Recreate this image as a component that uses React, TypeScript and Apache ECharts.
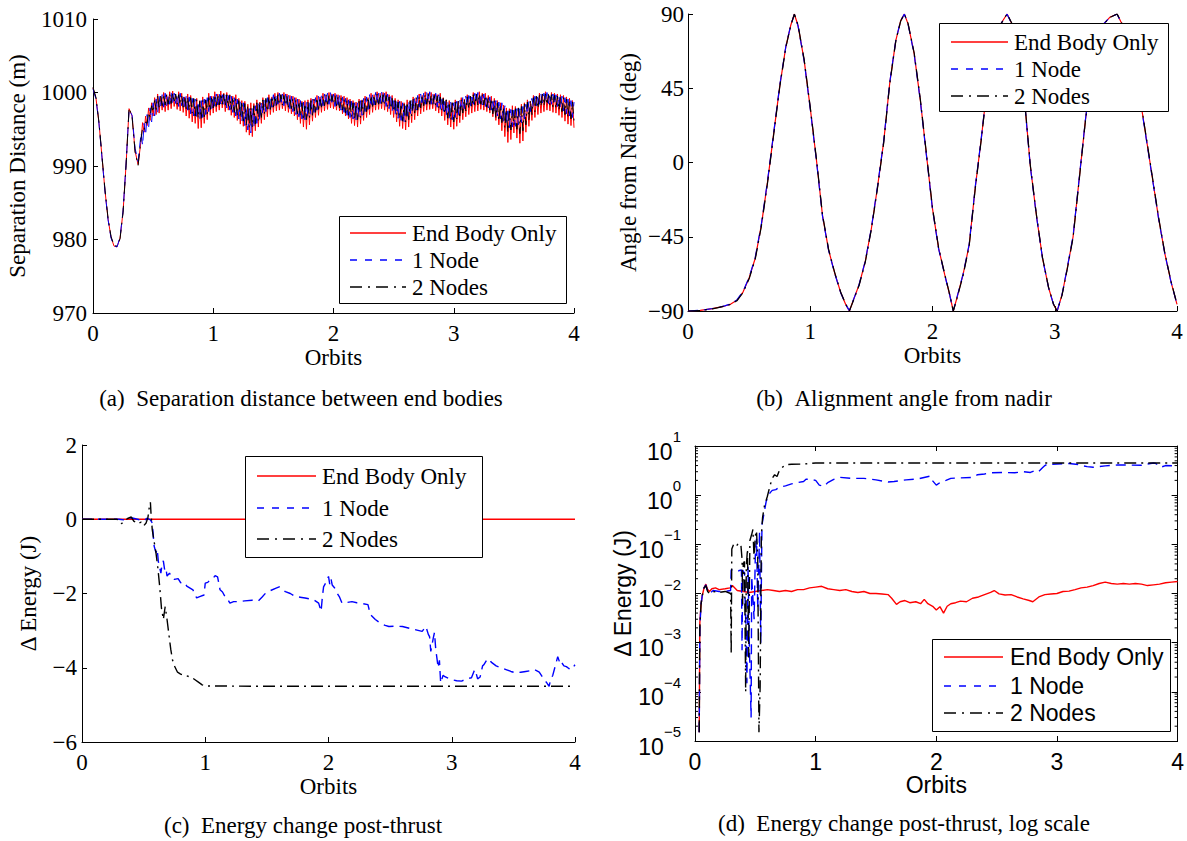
import { useEffect, useRef } from "react";
import * as echarts from "echarts";

const SERIF = "'Liberation Serif', 'Times New Roman', Times, serif";
const SANS = "'Liberation Sans', Arial, Helvetica, sans-serif";

// ---------- shared categories / ticks ----------
const SERIES_NAMES = ["End Body Only", "1 Node", "2 Nodes"];
const ORBIT_TICKS = [0, 1, 2, 3, 4];
const SEP_TICKS = [970, 980, 990, 1000, 1010];
const ANGLE_TICKS = [-90, -45, 0, 45, 90];
const ENERGY_TICKS = [-6, -4, -2, 0, 2];
const LOG_TICKS = [1e-5, 1e-4, 1e-3, 1e-2, 1e-1, 1, 10];
const LOG_MINOR_MULTIPLIERS = [2, 3, 4, 5, 6, 7, 8, 9];
const CAPTIONS = [
  "(a)\u00a0\u00a0Separation distance between end bodies",
  "(b)\u00a0\u00a0Alignment angle from nadir",
  "(c)\u00a0\u00a0Energy change post-thrust",
  "(d)\u00a0\u00a0Energy change post-thrust, log scale",
];

// ---------- (a) separation distance ----------
// smooth start (0 .. 0.375 orbits)
const sepEarlyOrbits = [0, 0.025, 0.05, 0.075, 0.1, 0.125, 0.15, 0.175, 0.2, 0.225, 0.25, 0.275, 0.3, 0.325, 0.35, 0.375];
const sepEarlyEndBody = [1000.6, 999.2, 995.8, 991.2, 986.6, 982.8, 980.3, 979.1, 979.0, 980.2, 983.8, 990.2, 997.8, 996.8, 992.0, 990.2];
const sepEarlyOneNode = [1000.5, 999.1, 995.7, 991.1, 986.5, 982.7, 980.2, 979.1, 979.0, 980.3, 983.9, 990.3, 997.7, 996.9, 992.4, 990.6];
const sepEarlyTwoNodes = [1000.7, 999.3, 995.9, 991.3, 986.7, 982.9, 980.4, 979.2, 979.1, 980.1, 983.7, 990.1, 997.9, 996.7, 991.9, 990.1];
// noisy part, sampled every SEP_STEP orbits from SEP_NOISE_START
const SEP_NOISE_START = 0.4;
const SEP_STEP = 0.0125;
const sepEndBody = [
  993.5, 995.9, 994.6, 996.8, 995.5, 997.9, 996.2, 998.6, 996.8, 999.3, 997.0, 999.8, 997.2, 999.5, 997.6, 1000.0, 997.4, 999.7, 997.6, 1000.1,
  997.8, 1000.2, 998.1, 999.6, 997.7, 1000.1, 997.5, 999.9, 997.3, 999.4, 996.8, 999.8, 996.5, 999.6, 996.0, 999.1, 995.8, 999.2, 995.1, 998.9,
  995.2, 999.4, 995.8, 999.0, 996.3, 999.9, 996.9, 999.5, 997.2, 1000.1, 997.4, 999.8, 997.6, 1000.2, 997.9, 999.9, 997.4, 1000.0, 997.6, 999.7,
  996.9, 999.5, 996.6, 999.7, 996.2, 999.2, 995.7, 998.9, 995.4, 998.8, 994.6, 998.4, 994.2, 998.6, 994.0, 998.5, 994.8, 999.0, 995.3, 998.7,
  995.8, 999.3, 996.3, 999.0, 996.7, 999.7, 997.0, 999.4, 997.3, 999.9, 997.5, 1000.0, 997.6, 999.7, 997.8, 1000.0, 997.5, 999.8, 997.3, 999.6,
  997.1, 999.5, 996.8, 999.3, 996.3, 999.1, 995.8, 998.8, 995.3, 998.9, 995.0, 999.0, 995.6, 999.2, 996.1, 999.1, 996.6, 999.6, 996.9, 999.4,
  997.3, 999.9, 997.5, 999.6, 997.7, 1000.0, 997.9, 999.8, 997.8, 999.9, 997.6, 999.7, 997.5, 999.6, 997.1, 999.5, 996.8, 999.3, 996.4, 999.1,
  995.8, 998.9, 995.5, 998.7, 995.3, 999.1, 995.7, 999.0, 996.2, 999.5, 996.6, 999.3, 997.0, 999.9, 997.3, 999.7, 997.6, 1000.1, 997.7, 999.9,
  997.8, 1000.0, 997.6, 1000.1, 997.4, 999.7, 997.0, 999.6, 996.6, 999.2, 996.0, 999.0, 995.4, 998.8, 995.1, 998.6, 994.9, 999.0, 995.3, 998.8,
  995.9, 999.4, 996.3, 999.2, 996.8, 999.8, 997.1, 999.6, 997.4, 1000.1, 997.6, 999.9, 997.7, 1000.0, 997.8, 999.8, 997.5, 999.7, 997.2, 999.9,
  996.8, 999.3, 996.2, 999.0, 995.6, 998.9, 995.3, 998.6, 995.0, 999.0, 995.4, 998.8, 995.9, 999.3, 996.3, 999.1, 996.7, 999.7, 997.0, 999.5,
  997.2, 1000.0, 997.4, 999.8, 997.5, 1000.1, 997.7, 999.9, 997.6, 999.9, 997.4, 999.6, 997.2, 999.5, 996.7, 999.2, 996.2, 998.9, 995.6, 998.6,
  994.8, 998.3, 994.0, 997.9, 993.2, 997.8, 993.6, 998.2, 994.5, 998.1, 993.8, 997.9, 993.1, 998.4, 993.4, 998.6, 994.6, 999.0, 995.4, 998.8,
  996.2, 999.6, 996.6, 999.4, 997.0, 999.9, 997.2, 999.8, 997.4, 1000.1, 997.6, 999.8, 997.5, 1000.0, 997.3, 999.9, 997.2, 999.8, 996.9, 999.7,
  996.6, 999.6, 996.1, 999.4, 995.7, 999.2, 995.5, 998.9, 995.2,
];
const sepOneNode = [
  994.5, 992.8, 995.8, 994.2, 997.0, 995.2, 997.9, 996.0, 998.6, 996.8, 999.1, 997.3, 999.5, 997.9, 999.7, 998.0, 999.9, 998.2, 999.6, 998.4,
  1000.0, 998.3, 999.9, 998.5, 999.8, 998.1, 999.9, 998.2, 999.7, 997.7, 999.5, 997.6, 999.4, 997.1, 999.2, 996.8, 999.1, 996.5, 998.8, 996.3,
  998.9, 996.6, 999.1, 997.0, 999.3, 997.4, 999.5, 997.8, 999.7, 998.0, 999.8, 998.3, 999.9, 998.2, 999.7, 998.4, 999.8, 997.9, 999.6, 997.6,
  999.5, 997.3, 999.3, 996.8, 999.1, 996.4, 998.8, 996.0, 998.6, 995.5, 998.1, 994.9, 997.8, 994.5, 997.9, 995.2, 998.2, 995.8, 998.5, 996.2,
  998.8, 997.0, 999.1, 997.4, 999.3, 997.8, 999.5, 998.0, 999.7, 998.2, 999.8, 998.4, 999.9, 998.3, 999.8, 998.2, 999.8, 998.0, 999.6, 997.8,
  999.5, 997.4, 999.3, 997.0, 999.1, 996.7, 998.9, 996.4, 998.7, 996.3, 998.8, 996.6, 998.9, 997.0, 999.1, 997.3, 999.3, 997.6, 999.5, 997.8,
  999.7, 998.2, 999.8, 998.3, 999.9, 998.4, 1000.0, 998.3, 999.8, 998.1, 999.7, 997.9, 999.6, 997.6, 999.4, 997.3, 999.2, 996.9, 999.0, 996.6,
  998.8, 996.4, 998.6, 996.3, 998.7, 996.7, 998.9, 996.9, 999.2, 997.4, 999.4, 997.7, 999.7, 998.0, 999.8, 998.3, 1000.0, 998.4, 999.9, 998.5,
  1000.1, 998.3, 999.9, 998.1, 999.8, 997.8, 999.6, 997.4, 999.3, 996.9, 999.0, 996.5, 998.8, 996.2, 998.6, 996.0, 998.6, 996.4, 998.8, 996.8,
  999.1, 997.3, 999.4, 997.6, 999.6, 998.0, 999.8, 998.2, 999.9, 998.4, 1000.0, 998.5, 1000.1, 998.4, 999.9, 998.3, 999.9, 998.0, 999.7, 997.7,
  999.5, 997.2, 999.2, 996.8, 998.9, 996.5, 998.7, 996.3, 998.6, 996.6, 998.8, 996.9, 999.0, 997.4, 999.3, 997.8, 999.5, 998.1, 999.6, 998.2,
  999.8, 998.4, 999.9, 998.5, 1000.0, 998.5, 999.9, 998.3, 999.8, 998.1, 999.6, 997.9, 999.4, 997.6, 999.2, 997.2, 998.9, 996.8, 998.7, 996.4,
  998.6, 996.1, 998.2, 995.6, 997.9, 995.2, 997.7, 995.3, 997.6, 995.4, 997.8, 995.6, 997.8, 995.9, 998.1, 996.4, 998.4, 997.0, 998.8, 997.4,
  999.2, 997.9, 999.5, 998.2, 999.7, 998.4, 999.8, 998.6, 999.9, 998.6, 1000.0, 998.5, 999.9, 998.4, 999.8, 998.3, 999.7, 998.1, 999.6, 997.8,
  999.5, 997.5, 999.3, 997.1, 999.1, 996.8, 998.9, 996.6, 998.7,
];
const sepTwoNodes = [
  993.8, 995.2, 994.9, 996.0, 995.8, 997.3, 996.6, 998.2, 997.3, 998.9, 997.7, 999.5, 998.0, 999.6, 998.2, 999.8, 998.3, 999.7, 998.4, 999.9,
  998.5, 999.9, 998.6, 999.8, 998.4, 999.7, 998.3, 999.6, 998.0, 999.5, 997.8, 999.4, 997.5, 999.3, 997.2, 999.2, 996.8, 999.0, 996.5, 998.8,
  996.4, 998.9, 996.7, 999.0, 997.1, 999.3, 997.5, 999.5, 997.9, 999.7, 998.1, 999.8, 998.3, 999.9, 998.4, 999.8, 998.2, 999.7, 998.0, 999.6,
  997.7, 999.4, 997.3, 999.2, 996.9, 998.9, 996.5, 998.8, 996.1, 998.5, 995.6, 998.3, 995.2, 998.0, 995.3, 998.2, 995.7, 998.6, 996.1, 998.8,
  996.6, 999.0, 997.0, 999.2, 997.4, 999.4, 997.7, 999.5, 998.0, 999.6, 998.2, 999.7, 998.3, 999.7, 998.3, 999.6, 998.2, 999.5, 998.0, 999.4,
  997.8, 999.2, 997.5, 999.0, 997.1, 998.8, 996.7, 998.6, 996.2, 998.5, 996.3, 998.7, 996.5, 998.9, 996.9, 999.1, 997.3, 999.3, 997.7, 999.4,
  998.0, 999.6, 998.2, 999.7, 998.4, 999.7, 998.5, 999.6, 998.4, 999.6, 998.2, 999.4, 997.9, 999.3, 997.6, 999.1, 997.2, 999.0, 996.9, 998.8,
  996.7, 998.6, 996.4, 998.5, 996.3, 998.8, 996.6, 998.9, 997.0, 999.2, 997.4, 999.4, 997.8, 999.6, 998.1, 999.7, 998.3, 999.8, 998.4, 999.8,
  998.5, 999.7, 998.3, 999.6, 998.1, 999.4, 997.8, 999.2, 997.4, 998.9, 996.9, 998.7, 996.4, 998.5, 996.1, 998.4, 996.0, 998.7, 996.3, 998.9,
  996.8, 999.1, 997.2, 999.3, 997.6, 999.5, 997.9, 999.7, 998.2, 999.8, 998.4, 999.8, 998.4, 999.7, 998.3, 999.6, 998.2, 999.5, 997.9, 999.4,
  997.6, 999.2, 997.1, 999.0, 996.5, 998.7, 996.2, 998.6, 996.0, 998.7, 996.4, 998.8, 996.8, 999.0, 997.2, 999.2, 997.5, 999.4, 997.8, 999.5,
  998.0, 999.7, 998.2, 999.8, 998.3, 999.8, 998.4, 999.7, 998.3, 999.6, 998.0, 999.4, 997.6, 999.2, 997.1, 998.9, 996.6, 998.6, 996.1, 998.3,
  995.9, 998.0, 995.2, 997.7, 994.6, 997.5, 994.9, 997.6, 995.5, 997.8, 995.0, 997.9, 994.4, 998.1, 994.8, 998.4, 995.6, 998.7, 996.3, 999.0,
  997.0, 999.3, 997.4, 999.5, 997.8, 999.6, 998.1, 999.8, 998.2, 999.8, 998.3, 999.7, 998.2, 999.7, 998.0, 999.6, 997.8, 999.5, 997.6, 999.4,
  997.4, 999.3, 997.0, 999.1, 996.6, 998.9, 996.4, 998.7, 996.2,
];

// ---------- (b) angle from nadir ----------
const angleOrbits = [
  0, 0.1, 0.2, 0.3, 0.35, 0.4, 0.45, 0.5, 0.55, 0.6, 0.65, 0.7, 0.75, 0.8, 0.84, 0.87, 0.9, 0.95, 1.0, 1.05,
  1.1, 1.15, 1.2, 1.25, 1.29, 1.32, 1.36, 1.4, 1.45, 1.5, 1.55, 1.6, 1.65, 1.7, 1.74, 1.77, 1.8, 1.85, 1.9, 1.95,
  2.0, 2.05, 2.1, 2.14, 2.17, 2.2, 2.25, 2.3, 2.35, 2.4, 2.45, 2.5, 2.55, 2.61, 2.65, 2.7, 2.75, 2.8, 2.85, 2.9,
  2.95, 2.99, 3.02, 3.06, 3.1, 3.15, 3.2, 3.25, 3.3, 3.35, 3.4, 3.45, 3.51, 3.55, 3.6, 3.65, 3.7, 3.75, 3.8, 3.85,
  3.9, 3.95, 4.0,
];
const angleEndBody = [
  -90, -89.6, -88.6, -87, -85.8, -83.5, -78.5, -70, -58, -38, -12, 17, 46, 70, 83, 90, 83, 62, 33, 2,
  -32, -53, -67, -79, -86, -90, -82, -74, -60, -40, -15, 12, 48, 74, 86, 90, 84, 66, 38, 5,
  -28, -52, -68, -80, -90, -82, -68, -50, -15, 15, 48, 70, 83, 90, 84, 71, 40, -2, -32, -58,
  -76, -86, -90, -80, -65, -45, -10, 25, 55, 74, 84, 88, 90, 84, 74, 58, 38, 14, -10, -34,
  -55, -72, -86,
];
const angleOneNode = [
  -90, -89.6, -88.5, -86.9, -85.7, -83.3, -78.2, -69.6, -57.5, -37.4, -11.4, 17.5, 46.4, 70.2, 83.1, 89.8, 82.8, 61.6, 32.5, 1.5,
  -32.4, -53.3, -67.2, -79.1, -86, -89.8, -81.9, -73.8, -59.7, -39.6, -14.5, 12.5, 48.4, 74.2, 86, 89.9, 83.8, 65.6, 37.5, 4.5,
  -28.4, -52.3, -68.2, -80, -89.9, -81.8, -67.7, -49.6, -14.6, 15.4, 48.3, 70.2, 83, 89.9, 83.9, 70.7, 39.6, -2.4, -32.3, -58.2,
  -76.1, -86, -89.9, -79.8, -64.7, -44.6, -9.6, 25.3, 55.2, 74.1, 84, 88, 89.9, 83.9, 73.8, 57.7, 37.6, 13.6, -10.4, -34.3,
  -55.2, -72.1, -86,
];
const angleTwoNodes = [
  -90, -89.7, -88.7, -87.1, -86, -83.8, -78.9, -70.5, -58.6, -38.7, -12.7, 16.4, 45.5, 69.7, 82.8, 89.9, 83.4, 62.5, 33.6, 2.6,
  -31.5, -52.6, -66.7, -78.8, -85.8, -90, -82.3, -74.4, -60.4, -40.5, -15.6, 11.4, 47.5, 73.7, 85.8, 90, 84.3, 66.5, 38.6, 5.6,
  -27.5, -51.6, -67.7, -79.8, -90, -82.4, -68.5, -50.6, -15.7, 14.5, 47.6, 69.7, 82.8, 90, 84.3, 71.5, 40.6, -1.5, -31.6, -57.7,
  -75.8, -85.9, -90, -80.4, -65.5, -45.5, -10.6, 24.5, 54.6, 73.7, 83.8, 87.9, 90, 84.3, 74.4, 58.5, 38.5, 14.6, -9.4, -33.5,
  -54.7, -71.7, -85.8,
];

// ---------- (c) energy change ----------
const energyEndOrbits = [0, 1, 2, 3, 4];
const energyEndBody = [0, 0, 0, 0, 0];
const energyOneOrbits = [
  0, 0.1, 0.2, 0.3, 0.35, 0.4, 0.45, 0.5, 0.53, 0.555,
  0.57, 0.585, 0.6, 0.61, 0.62, 0.63, 0.64, 0.65, 0.66, 0.67,
  0.68, 0.69, 0.71, 0.73, 0.75, 0.78, 0.8, 0.83, 0.85, 0.88,
  0.9, 0.93, 0.96, 0.99, 1.0, 1.02, 1.04, 1.06, 1.08, 1.1,
  1.12, 1.14, 1.16, 1.18, 1.2, 1.23, 1.27, 1.32, 1.38, 1.43,
  1.46, 1.49, 1.53, 1.57, 1.6, 1.63, 1.65, 1.69, 1.73, 1.77,
  1.81, 1.85, 1.88, 1.92, 1.94, 1.95, 1.96, 1.98, 2.0, 2.01,
  2.02, 2.03, 2.05, 2.07, 2.09, 2.11, 2.15, 2.19, 2.23, 2.27,
  2.32, 2.34, 2.38, 2.42, 2.46, 2.49, 2.55, 2.6, 2.66, 2.71,
  2.76, 2.79, 2.81, 2.82, 2.83, 2.85, 2.86, 2.87, 2.89, 2.9,
  2.91, 2.93, 2.94, 2.97, 3.0, 3.04, 3.08, 3.12, 3.16, 3.18,
  3.19, 3.21, 3.23, 3.25, 3.26, 3.29, 3.31, 3.32, 3.36, 3.4,
  3.44, 3.48, 3.52, 3.56, 3.6, 3.64, 3.67, 3.71, 3.73, 3.75,
  3.77, 3.79, 3.8, 3.82, 3.84, 3.86, 3.88, 3.89, 3.91, 3.93,
  3.95, 3.97, 4.0,
];
const energyOneNode = [
  0, 0, 0, 0, -0.02, 0.04, 0, -0.04, 0.03, -0.02,
  -0.1, -0.72, -0.9, -0.8, -1.15, -1.3, -1.45, -1.2, -1.12, -1.35,
  -1.3, -1.53, -1.45, -1.58, -1.62, -1.6, -1.71, -1.7, -1.8, -1.86,
  -1.9, -2.12, -2.08, -2.04, -1.72, -1.7, -1.63, -1.6, -1.52, -1.55,
  -1.9, -1.96, -2.08, -2.15, -2.26, -2.22, -2.22, -2.2, -2.18, -2.2,
  -2.1, -1.99, -1.92, -1.86, -1.82, -1.9, -1.95, -2.0, -2.08, -2.1,
  -2.12, -2.15, -2.17, -2.26, -2.48, -2.1, -1.82, -1.7, -1.54, -1.75,
  -1.6, -1.77, -1.85, -1.99, -2.1, -2.26, -2.24, -2.22, -2.25, -2.27,
  -2.3, -2.57, -2.7, -2.8, -2.86, -2.89, -2.88, -2.89, -2.94, -2.98,
  -3.02, -2.89, -3.1, -3.16, -3.56, -3.2, -3.05, -3.5, -4.0, -3.8,
  -4.41, -4.2, -4.23, -4.28, -4.32, -4.35, -4.36, -4.3, -4.27, -4.1,
  -4.05, -4.3, -4.25, -3.95, -3.92, -3.76, -3.8, -3.85, -3.95, -4.0,
  -4.05, -4.1, -4.14, -4.12, -4.1, -4.08, -4.05, -4.12, -4.22, -4.32,
  -4.4, -4.5, -4.35, -4.2, -3.95, -3.7, -3.9, -3.85, -3.95, -3.97,
  -4.02, -4.05, -3.92,
];
const energyTwoOrbits = [
  0, 0.1, 0.2, 0.28, 0.3, 0.32, 0.34, 0.37, 0.4, 0.42, 0.45, 0.48, 0.5, 0.52, 0.535, 0.545, 0.555, 0.56, 0.57, 0.585,
  0.6, 0.615, 0.63, 0.645, 0.66, 0.675, 0.69, 0.705, 0.72, 0.735, 0.75, 0.775, 0.8, 0.85, 0.89, 0.92, 0.95, 0.975, 1.0, 1.5,
  2.0, 2.5, 3.0, 3.5, 4.0,
];
const energyTwoNodes = [
  0, 0, 0, 0, -0.02, -0.12, -0.06, 0.02, 0.06, -0.05, -0.12, -0.08, -0.18, -0.1, 0.05, 0.3, 0.46, 0.15, -0.28, -0.6,
  -0.9, -1.3, -1.8, -2.4, -2.7, -2.35, -2.7, -3.1, -3.5, -3.8, -3.95, -4.12, -4.17, -4.22, -4.26, -4.33, -4.4, -4.46, -4.49, -4.5,
  -4.5, -4.5, -4.5, -4.5, -4.5,
];

// ---------- (d) |energy change|, log scale ----------
const logEndOrbits = [
  0.035, 0.04, 0.05, 0.06, 0.075, 0.09, 0.105, 0.12, 0.14, 0.17, 0.2, 0.25, 0.29, 0.31, 0.35, 0.4, 0.45, 0.5, 0.55, 0.6,
  0.65, 0.7, 0.75, 0.8, 0.85, 0.9, 0.95, 1.0, 1.05, 1.1, 1.15, 1.2, 1.25, 1.3, 1.35, 1.4, 1.45, 1.5, 1.55, 1.6,
  1.63, 1.67, 1.7, 1.74, 1.78, 1.83, 1.87, 1.9, 1.93, 1.97, 2.0, 2.03, 2.06, 2.09, 2.12, 2.16, 2.2, 2.25, 2.3, 2.35,
  2.4, 2.45, 2.48, 2.52, 2.57, 2.62, 2.67, 2.72, 2.77, 2.8, 2.85, 2.9, 2.95, 3.0, 3.05, 3.1, 3.15, 3.2, 3.25, 3.3,
  3.35, 3.4, 3.45, 3.5, 3.55, 3.6, 3.65, 3.7, 3.75, 3.8, 3.85, 3.9, 3.95, 4.0,
];
const logEndBody = [
  1.5e-5, 2.5e-3, 6e-3, 9e-3, 1.3e-2, 1.55e-2, 1.2e-2, 1.1e-2, 1.25e-2, 1.3e-2, 1.2e-2, 1.25e-2, 1.3e-2, 1.45e-2, 1.15e-2, 1.1e-2, 1.05e-2, 1.1e-2, 1.15e-2, 1.2e-2,
  1.15e-2, 1.1e-2, 1.15e-2, 1.1e-2, 1.2e-2, 1.2e-2, 1.3e-2, 1.35e-2, 1.4e-2, 1.25e-2, 1.2e-2, 1.15e-2, 1.2e-2, 1.1e-2, 1.05e-2, 1.1e-2, 1.0e-2, 1.0e-2, 9.8e-3, 9.5e-3,
  8e-3, 6e-3, 6.8e-3, 7.2e-3, 6.5e-3, 6.8e-3, 6.2e-3, 7.6e-3, 6.2e-3, 5.5e-3, 4.6e-3, 5.4e-3, 4.0e-3, 5.5e-3, 6.2e-3, 6.5e-3, 7.0e-3, 6.8e-3, 8e-3, 8.5e-3,
  9.5e-3, 1.05e-2, 1.15e-2, 9.8e-3, 9.3e-3, 9.5e-3, 8.5e-3, 7.8e-3, 7.2e-3, 6.8e-3, 8.5e-3, 9.5e-3, 9.8e-3, 1.0e-2, 1.1e-2, 1.12e-2, 1.2e-2, 1.3e-2, 1.35e-2, 1.45e-2,
  1.6e-2, 1.7e-2, 1.6e-2, 1.55e-2, 1.6e-2, 1.55e-2, 1.6e-2, 1.55e-2, 1.45e-2, 1.5e-2, 1.55e-2, 1.65e-2, 1.7e-2, 1.75e-2,
];
const logOneOrbits = [
  0.035, 0.04, 0.05, 0.06, 0.075, 0.09, 0.105, 0.12, 0.15, 0.2, 0.25, 0.295, 0.3, 0.33, 0.36, 0.385, 0.39, 0.395, 0.41, 0.42,
  0.43, 0.44, 0.45, 0.465, 0.47, 0.49, 0.5, 0.51, 0.52, 0.535, 0.545, 0.555, 0.57, 0.59, 0.62, 0.64, 0.67, 0.7, 0.75, 0.8,
  0.85, 0.9, 0.92, 0.95, 1.0, 1.03, 1.07, 1.1, 1.15, 1.2, 1.3, 1.4, 1.5, 1.6, 1.65, 1.75, 1.85, 1.95, 1.97, 2.0,
  2.03, 2.08, 2.12, 2.2, 2.3, 2.34, 2.4, 2.45, 2.55, 2.65, 2.72, 2.78, 2.83, 2.85, 2.88, 2.9, 2.92, 2.95, 3.0, 3.1,
  3.18, 3.2, 3.25, 3.3, 3.4, 3.5, 3.6, 3.7, 3.75, 3.8, 3.82, 3.86, 3.9, 3.96, 4.0,
];
const logOneNode = [
  1.5e-5, 2e-3, 6e-3, 9e-3, 1.3e-2, 1.5e-2, 1.1e-2, 1.0e-2, 1.15e-2, 1.1e-2, 1.1e-2, 1.15e-2, 3e-2, 3.1e-2, 2.9e-2, 3e-2, 7e-4, 3e-2, 2.6e-2, 3e-3,
  1.5e-4, 3.5e-2, 1e-3, 3e-5, 2.2e-2, 3e-3, 6e-2, 1.3e-1, 5e-3, 1.8e-1, 1e-3, 2.5e-1, 4e-1, 7.5e-1, 1.1, 1.25, 1.3, 1.45, 1.55, 1.7,
  1.8, 1.9, 2.1, 2.1, 2.0, 1.6, 1.5, 1.8, 2.1, 2.3, 2.2, 2.2, 2.05, 1.85, 1.9, 2.05, 2.15, 2.45, 1.95, 1.6,
  1.8, 2.0, 2.2, 2.25, 2.3, 2.6, 2.7, 2.85, 2.9, 2.85, 3.0, 2.9, 3.25, 3.05, 3.6, 4.0, 4.3, 4.2, 4.3, 4.4,
  4.2, 4.05, 3.8, 3.7, 3.95, 4.1, 4.1, 4.05, 4.3, 4.5, 4.4, 3.7, 4.0, 3.95, 3.85,
];
const logTwoOrbits = [
  0.035, 0.04, 0.05, 0.06, 0.075, 0.09, 0.105, 0.12, 0.15, 0.2, 0.25, 0.295, 0.3, 0.305, 0.32, 0.34, 0.36, 0.38, 0.39, 0.395,
  0.4, 0.41, 0.42, 0.425, 0.435, 0.445, 0.455, 0.47, 0.48, 0.49, 0.5, 0.51, 0.52, 0.53, 0.54, 0.55, 0.56, 0.575, 0.6, 0.62,
  0.64, 0.66, 0.68, 0.7, 0.73, 0.76, 0.8, 0.9, 0.95, 1.0, 2.0, 3.0, 4.0,
];
const logTwoNodes = [
  1.5e-5, 2e-3, 6e-3, 9e-3, 1.3e-2, 1.45e-2, 1.1e-2, 1.0e-2, 1.1e-2, 1.05e-2, 1.1e-2, 1.0e-2, 6e-4, 8e-2, 1e-1, 9e-2, 1.05e-1, 1e-1, 5e-2, 6e-3,
  4e-2, 4.5e-2, 1e-4, 3.5e-2, 8e-2, 5e-4, 1.2e-1, 1.6e-1, 2e-1, 5e-2, 1.5e-1, 1.9e-1, 5e-2, 1.5e-5, 1.3e-4, 1.5e-1, 3.5e-1, 6e-1, 9.5e-1, 1.5,
  2.2, 2.6, 2.4, 3.2, 3.8, 4.2, 4.25, 4.3, 4.4, 4.5, 4.5, 4.5, 4.5,
];

// ---------- helpers ----------
const pairs = (xs: number[], ys: number[]) => xs.map((x, i) => [x, ys[i]]);
const stepPairs = (ys: number[], start: number, step: number) =>
  ys.map((y, i) => [Math.round((start + i * step) * 10000) / 10000, y]);
const fmtNum = (v: number) => (v < 0 ? "\u2212" + Math.abs(v) : String(v));
const supDigits = (v: number) => {
  const e = Math.round(Math.log10(v));
  return e < 0 ? "\u2212" + Math.abs(e) : String(e);
};

const LINE_COLORS = ["#ff0000", "#0000ff", "#000000"];
const LINE_DASHES: any[] = ["solid", [10, 6], [12, 5, 2, 5]];
const LEGEND_DASHES: any[] = [null, [7, 8], [12, 6, 2, 6]];

// legend boxes (layout only)
const LEGEND_BOXES = [
  { x: 339, y: 216, w: 227, h: 87, rows: [233, 260, 287], line: [350, 406], textX: 412, font: SERIF },
  { x: 939, y: 23, w: 229, h: 88, rows: [42, 69, 96], line: [951, 1008], textX: 1014, font: SERIF },
  { x: 245, y: 456, w: 237, h: 101, rows: [476, 508, 539], line: [257, 316], textX: 322, font: SERIF },
  { x: 932, y: 639, w: 238, h: 92, rows: [657, 686, 713], line: [944, 1003], textX: 1010, font: SANS },
];

function buildOption() {
  const grids = [
    { left: 93, top: 19, width: 481, height: 294 },
    { left: 688, top: 14, width: 489, height: 297 },
    { left: 82, top: 445, width: 493, height: 297 },
    { left: 695, top: 446, width: 484, height: 295 },
  ];

  const xAxisBase = (gridIndex: number, font: string, margin: number) => ({
    type: "value",
    gridIndex,
    min: ORBIT_TICKS[0],
    max: ORBIT_TICKS[ORBIT_TICKS.length - 1],
    interval: ORBIT_TICKS[1] - ORBIT_TICKS[0],
    name: "Orbits",
    nameLocation: "middle",
    nameGap: 32,
    nameTextStyle: { fontFamily: font, fontSize: 23, color: "#000" },
    axisLine: { show: true, onZero: false, lineStyle: { color: "#000", width: 1 } },
    axisTick: { show: true, inside: true, length: 5, lineStyle: { color: "#000" } },
    axisLabel: { fontFamily: font, fontSize: 23, color: "#000", margin, formatter: fmtNum },
    splitLine: { show: false },
  });

  const yAxisBase = (gridIndex: number, ticks: number[], name: string, nameGap: number, margin: number) => ({
    type: "value",
    gridIndex,
    min: ticks[0],
    max: ticks[ticks.length - 1],
    interval: ticks[1] - ticks[0],
    name,
    nameLocation: "middle",
    nameRotate: 90,
    nameGap,
    nameTextStyle: { fontFamily: SERIF, fontSize: 23, color: "#000" },
    axisLine: { show: true, onZero: false, lineStyle: { color: "#000", width: 1 } },
    axisTick: { show: true, inside: true, length: 5, lineStyle: { color: "#000" } },
    axisLabel: { fontFamily: SERIF, fontSize: 23, color: "#000", margin, formatter: fmtNum },
    splitLine: { show: false },
  });

  const xAxis: any[] = [
    xAxisBase(0, SERIF, 9),
    xAxisBase(1, SERIF, 9),
    xAxisBase(2, SERIF, 9),
    xAxisBase(3, SANS, 9),
    {
      type: "value",
      gridIndex: 3,
      position: "top",
      min: ORBIT_TICKS[0],
      max: ORBIT_TICKS[ORBIT_TICKS.length - 1],
      interval: 1,
      axisLine: { show: true, onZero: false, lineStyle: { color: "#000", width: 1 } },
      axisTick: { show: true, inside: true, length: 5, lineStyle: { color: "#000" } },
      axisLabel: { show: false },
      splitLine: { show: false },
    },
  ];

  const logLabel = {
    fontFamily: SANS,
    color: "#000",
    margin: 14,
    formatter: (v: number) => `{b|10}{s|${supDigits(v)}}`,
    rich: {
      b: { fontFamily: SANS, fontSize: 23, color: "#000", lineHeight: 34, verticalAlign: "bottom" },
      s: { fontFamily: SANS, fontSize: 15, color: "#000", verticalAlign: "top" },
    },
  };

  const yAxis: any[] = [
    yAxisBase(0, SEP_TICKS, "Separation Distance (m)", 64, 6),
    yAxisBase(1, ANGLE_TICKS, "Angle from Nadir (deg)", 48, 4),
    yAxisBase(2, ENERGY_TICKS, "\u0394 Energy (J)", 42, 5),
    {
      type: "log",
      logBase: 10,
      gridIndex: 3,
      min: LOG_TICKS[0],
      max: LOG_TICKS[LOG_TICKS.length - 1],
      splitNumber: LOG_TICKS.length - 1,
      name: "\u0394 Energy (J)",
      nameLocation: "middle",
      nameRotate: 90,
      nameGap: 61,
      nameTextStyle: { fontFamily: SANS, fontSize: 23, color: "#000" },
      axisLine: { show: true, onZero: false, lineStyle: { color: "#000", width: 1 } },
      axisTick: { show: true, inside: true, length: 6, lineStyle: { color: "#000" } },
      axisLabel: logLabel,
      splitLine: { show: false },
    },
    {
      type: "log",
      logBase: 10,
      gridIndex: 3,
      position: "right",
      min: LOG_TICKS[0],
      max: LOG_TICKS[LOG_TICKS.length - 1],
      splitNumber: LOG_TICKS.length - 1,
      axisLine: { show: true, onZero: false, lineStyle: { color: "#000", width: 1 } },
      axisTick: { show: true, inside: true, length: 6, lineStyle: { color: "#000" } },
      axisLabel: { show: false },
      splitLine: { show: false },
    },
  ];

  const panelData: number[][][][] = [
    [
      [...pairs(sepEarlyOrbits, sepEarlyEndBody), ...stepPairs(sepEndBody, SEP_NOISE_START, SEP_STEP)],
      [...pairs(sepEarlyOrbits, sepEarlyOneNode), ...stepPairs(sepOneNode, SEP_NOISE_START, SEP_STEP)],
      [...pairs(sepEarlyOrbits, sepEarlyTwoNodes), ...stepPairs(sepTwoNodes, SEP_NOISE_START, SEP_STEP)],
    ],
    [pairs(angleOrbits, angleEndBody), pairs(angleOrbits, angleOneNode), pairs(angleOrbits, angleTwoNodes)],
    [pairs(energyEndOrbits, energyEndBody), pairs(energyOneOrbits, energyOneNode), pairs(energyTwoOrbits, energyTwoNodes)],
    [pairs(logEndOrbits, logEndBody), pairs(logOneOrbits, logOneNode), pairs(logTwoOrbits, logTwoNodes)],
  ];
  const widths = [1, 1.2, 1.4, 1.4];

  const series: any[] = [];
  panelData.forEach((panel, p) => {
    panel.forEach((data, s) => {
      series.push({
        type: "line",
        name: SERIES_NAMES[s],
        xAxisIndex: p,
        yAxisIndex: p,
        data,
        symbol: "none",
        showSymbol: false,
        clip: true,
        silent: true,
        z: 2 + s,
        lineStyle: { color: LINE_COLORS[s], type: LINE_DASHES[s], width: widths[p] },
        itemStyle: { color: LINE_COLORS[s] },
      });
    });
  });

  // minor ticks of the log axis in (d), placed through the axis scale
  const minorValues: number[][] = [];
  LOG_TICKS.slice(0, -1).forEach((decade) => {
    LOG_MINOR_MULTIPLIERS.forEach((m) => minorValues.push([ORBIT_TICKS[0], decade * m]));
  });
  series.push({
    type: "custom",
    xAxisIndex: 3,
    yAxisIndex: 3,
    silent: true,
    clip: false,
    z: 10,
    data: minorValues,
    renderItem: (_params: any, api: any) => {
      const v = api.value(1);
      const pl = api.coord([ORBIT_TICKS[0], v]);
      const pr = api.coord([ORBIT_TICKS[ORBIT_TICKS.length - 1], v]);
      return {
        type: "group",
        children: [
          { type: "line", shape: { x1: pl[0], y1: pl[1], x2: pl[0] + 3, y2: pl[1] }, style: { stroke: "#000", lineWidth: 1 } },
          { type: "line", shape: { x1: pr[0] - 3, y1: pr[1], x2: pr[0], y2: pr[1] }, style: { stroke: "#000", lineWidth: 1 } },
        ],
      };
    },
  });

  // legends drawn as graphic groups
  const legendGraphics: any[] = LEGEND_BOXES.map((b) => ({
    type: "group",
    z: 100,
    silent: true,
    children: [
      {
        type: "rect",
        shape: { x: b.x + 0.5, y: b.y + 0.5, width: b.w, height: b.h },
        style: { fill: "#fff", stroke: "#000", lineWidth: 1 },
        z: 100,
      },
      ...SERIES_NAMES.flatMap((name, s) => [
        {
          type: "line",
          shape: { x1: b.line[0], y1: b.rows[s], x2: b.line[1], y2: b.rows[s] },
          style: { stroke: LINE_COLORS[s], lineWidth: 1.5, lineDash: LEGEND_DASHES[s] },
          z: 101,
        },
        {
          type: "text",
          x: b.textX,
          y: b.rows[s],
          style: { text: name, fontFamily: b.font, fontSize: 23, fill: "#000", align: "left", verticalAlign: "middle" },
          z: 101,
        },
      ]),
    ],
  }));

  const captionPos = [
    [301, 398],
    [904, 398],
    [303, 825],
    [904, 823],
  ];
  const captionGraphics = CAPTIONS.map((text, i) => ({
    type: "text",
    x: captionPos[i][0],
    y: captionPos[i][1],
    silent: true,
    style: {
      text,
      fontFamily: SERIF,
      fontSize: 23,
      fill: "#000",
      align: "center",
      verticalAlign: "middle",
    },
  }));

  return {
    animation: false,
    backgroundColor: "#fff",
    grid: grids.map((g) => ({ ...g, containLabel: false })),
    xAxis,
    yAxis,
    series,
    graphic: [...legendGraphics, ...captionGraphics],
  };
}

export default function App() {
  const ref = useRef<HTMLDivElement>(null);
  useEffect(() => {
    document.body.style.margin = "0";
    const chart = echarts.init(ref.current as HTMLDivElement, undefined, { renderer: "svg" });
    chart.setOption(buildOption() as any);
    return () => chart.dispose();
  }, []);
  return <div ref={ref} style={{ width: 1187, height: 841, background: "#fff" }} />;
}
